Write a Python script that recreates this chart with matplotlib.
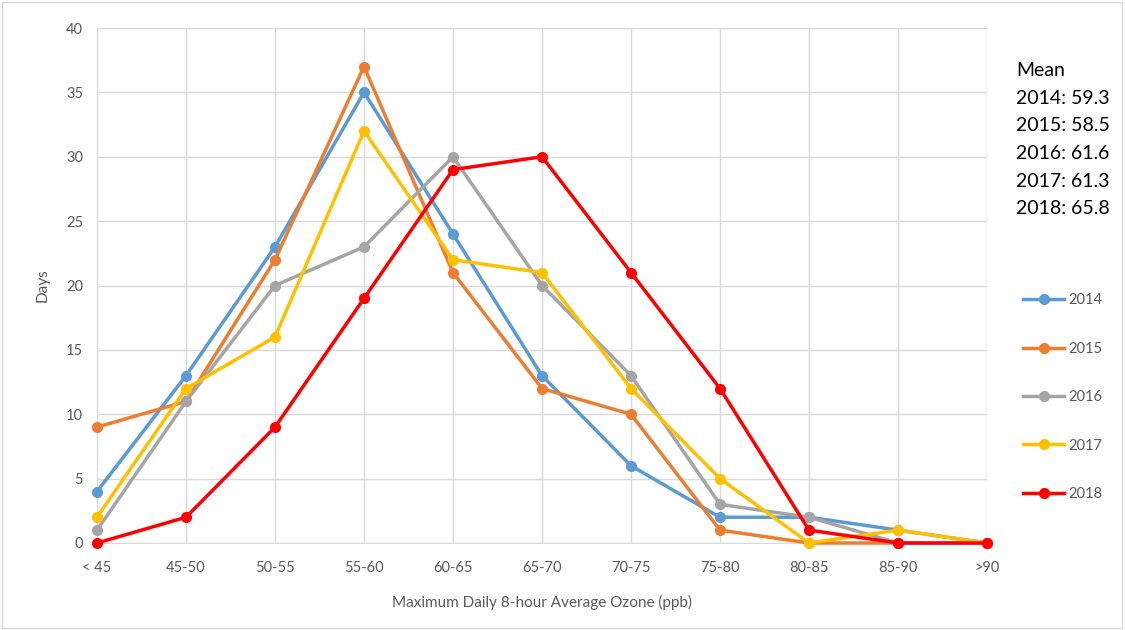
import matplotlib.pyplot as plt
from matplotlib.patches import Rectangle

categories = ['< 45', '45-50', '50-55', '55-60', '60-65', '65-70',
              '70-75', '75-80', '80-85', '85-90', '>90']
years = ['2014', '2015', '2016', '2017', '2018']
days_2014 = [4, 13, 23, 35, 24, 13, 6, 2, 2, 1, 0]
days_2015 = [9, 11, 22, 37, 21, 12, 10, 1, 0, 0, 0]
days_2016 = [1, 11, 20, 23, 30, 20, 13, 3, 2, 0, 0]
days_2017 = [2, 12, 16, 32, 22, 21, 12, 5, 0, 1, 0]
days_2018 = [0, 2, 9, 19, 29, 30, 21, 12, 1, 0, 0]
means = [59.3, 58.5, 61.6, 61.3, 65.8]

colors = ['#5B9BD5', '#ED7D31', '#A5A5A5', '#FFC000', '#FF0000']
series = [days_2014, days_2015, days_2016, days_2017, days_2018]

plt.rcParams['font.family'] = ['Lato', 'DejaVu Sans']

fig = plt.figure(figsize=(11.25, 6.3), dpi=100)
ax = fig.add_axes([97 / 1125, 1 - 543 / 630, 890 / 1125, 515 / 630])

x = list(range(len(categories)))
lines = []
for year, vals, c in zip(years, series, colors):
    ln, = ax.plot(x, vals, color=c, lw=2.5, marker='o', markersize=7,
                  label=year, zorder=3, clip_on=False)
    lines.append(ln)

ax.set_xlim(0, len(categories) - 1)
ax.set_ylim(0, 40)
ax.set_yticks(range(0, 41, 5))
ax.set_xticks(x)
ax.set_xticklabels(categories)
ax.grid(True, color='#D9D9D9', lw=1)
ax.set_axisbelow(True)
for s in ['top', 'right', 'left']:
    ax.spines[s].set_visible(False)
ax.spines['bottom'].set_color('#D9D9D9')
ax.tick_params(length=0, labelsize=10.5, colors='#595959')
ax.tick_params(axis='x', pad=13)
ax.tick_params(axis='y', pad=10)
ax.set_ylabel('Days', fontsize=11, color='#595959', labelpad=12)
ax.set_xlabel('Maximum Daily 8-hour Average Ozone (ppb)', fontsize=11,
              color='#595959', labelpad=14)

mean_text = 'Mean\n' + '\n'.join(f'{y}: {m}' for y, m in zip(years, means))
fig.text(1016 / 1125, 1 - 62 / 630, mean_text, fontsize=14, va='top',
         ha='left', linespacing=1.76, color='black')

fig.legend(handles=lines, loc='upper left',
           bbox_to_anchor=(1016 / 1125, 1 - 286 / 630), frameon=False,
           fontsize=10.5, labelcolor='#595959', handlelength=2.8,
           labelspacing=2.36, handletextpad=0.3, borderpad=0)

fig.add_artist(Rectangle((0.002, 0.003), 0.995, 0.994, transform=fig.transFigure,
                         fill=False, edgecolor='#D9D9D9', lw=1))

fig.savefig('out.png', dpi=100)
